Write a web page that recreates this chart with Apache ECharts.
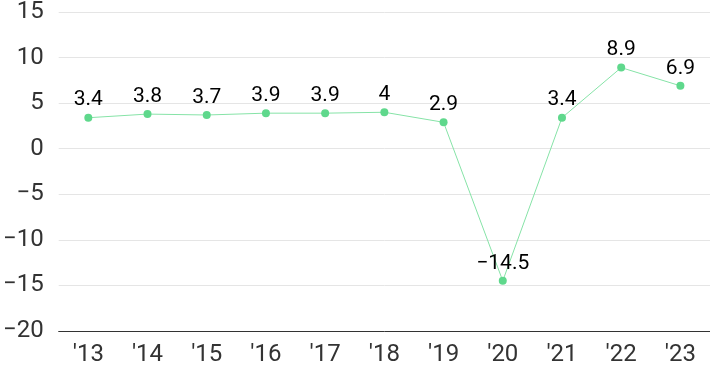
<!DOCTYPE html>
<html><head><meta charset="utf-8">
<script src="https://cdn.jsdelivr.net/npm/echarts@6/dist/echarts.min.js"></script>
<style>html,body{margin:0;padding:0;background:#fff}#c{width:710px;height:371px}</style>
</head><body><div id="c"></div>
<script>
const categories = ["'13","'14","'15","'16","'17","'18","'19","'20","'21","'22","'23"];
const values = [3.4, 3.8, 3.7, 3.9, 3.9, 4, 2.9, -14.5, 3.4, 8.9, 6.9];
const minus = v => String(v).replace('-', '\u2212');
const chart = echarts.init(document.getElementById('c'), null, {renderer:'canvas'});
chart.setOption({
  animation: false,
  grid: {left: 58, right: 0, top: 7, bottom: 40},
  xAxis: {
    type: 'category', data: categories, boundaryGap: true,
    axisLine: {onZero: false, lineStyle: {color: '#333', width: 1}},
    axisTick: {show: false},
    axisLabel: {color: '#333', fontSize: 24, fontFamily: 'Roboto', margin: 12}
  },
  yAxis: {
    type: 'value', min: -20, max: 15, interval: 5,
    axisLine: {show: false}, axisTick: {show: false},
    splitLine: {lineStyle: {color: '#e5e5e5'}},
    axisLabel: {color: '#333', fontSize: 24, fontFamily: 'Roboto', margin: 15, formatter: minus}
  },
  series: [{
    type: 'line', data: values,
    symbol: 'circle', symbolSize: 8,
    lineStyle: {color: '#86e3a7', width: 1},
    itemStyle: {color: '#5fd88c'},
    label: {show: true, position: 'top', color: '#000', fontSize: 21, fontFamily: 'Roboto', distance: 3,
      formatter: p => minus(p.value)}
  }]
});
</script></body></html>
